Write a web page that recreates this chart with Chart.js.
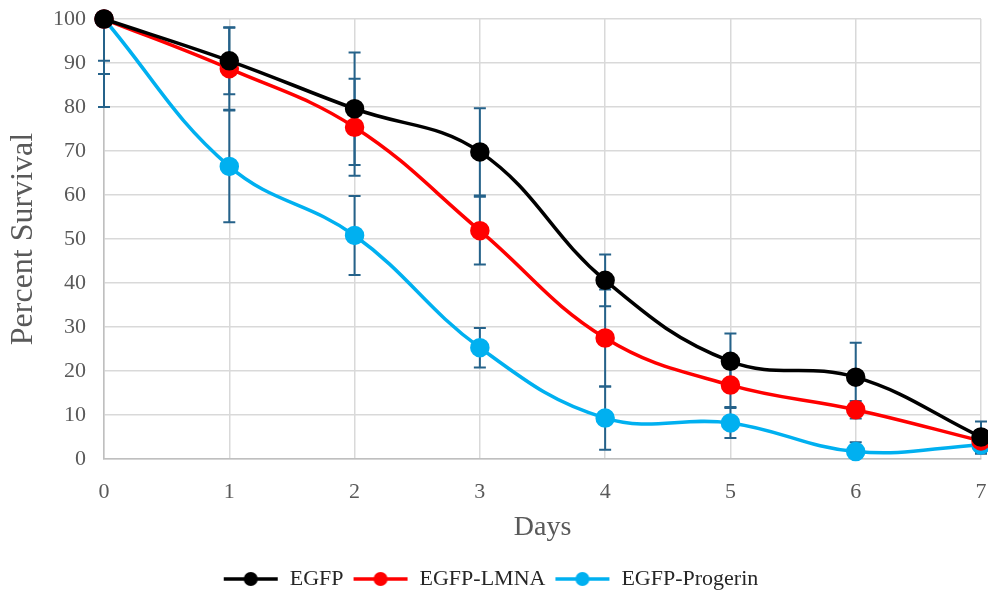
<!DOCTYPE html>
<html>
<head>
<meta charset="utf-8">
<script src="https://cdn.jsdelivr.net/npm/chart.js@4"></script>
<style>
  html, body { margin: 0; padding: 0; background: #fff; }
  #wrap { width: 988px; height: 600px; }
</style>
</head>
<body>
<div id="wrap"><canvas id="chart"></canvas></div>
<script>
// values
const days = ["0", "1", "2", "3", "4", "5", "6", "7"];
const egfp = [100, 90.5, 79.6, 69.8, 40.6, 22.2, 18.6, 5];
const lmna = [100, 88.7, 75.4, 51.9, 27.5, 16.8, 11.2, 4.1];
const progerin = [100, 66.5, 50.8, 25.3, 9.3, 8.2, 1.7, 3.2];
const egfpErr = [9.5, 7.6, 12.8, 9.9, 5.9, 6.3, 7.8, 3.5];
const lmnaErr = [12.5, 9.3, 11, 7.7, 11, 5, 2, 2.5];
const progerinErr = [20, 12.7, 9, 4.5, 7.2, 3.4, 2.1, 2];
const yTicks = [0, 10, 20, 30, 40, 50, 60, 70, 80, 90, 100];

const serif = "'Liberation Serif', 'Times New Roman', serif";

// legend swatch: line with a dot in the middle
function swatch(color) {
  const c = document.createElement("canvas");
  c.width = 56; c.height = 18;
  const g = c.getContext("2d");
  g.strokeStyle = color; g.lineWidth = 3.5;
  g.beginPath(); g.moveTo(1, 9); g.lineTo(55, 9); g.stroke();
  g.fillStyle = color;
  g.beginPath(); g.arc(28, 9, 7, 0, Math.PI * 2); g.fill();
  return c;
}

const errorBars = {
  id: "errorBars",
  beforeDatasetsDraw(chart) {
    const { ctx, chartArea, scales } = chart;
    ctx.save();
    ctx.beginPath();
    ctx.rect(chartArea.left - 10, chartArea.top, chartArea.right - chartArea.left + 20, chartArea.bottom - chartArea.top);
    ctx.clip();
    ctx.strokeStyle = "#25628a";
    ctx.lineWidth = 2;
    chart.data.datasets.forEach((ds) => {
      ds.data.forEach((v, i) => {
        const e = ds.errors[i];
        const x = scales.x.getPixelForValue(i);
        const yTop = scales.y.getPixelForValue(v + e);
        const yBot = scales.y.getPixelForValue(v - e);
        ctx.beginPath();
        ctx.moveTo(x, yTop); ctx.lineTo(x, yBot);
        ctx.moveTo(x - 6, yTop); ctx.lineTo(x + 6, yTop);
        ctx.moveTo(x - 6, yBot); ctx.lineTo(x + 6, yBot);
        ctx.stroke();
      });
    });
    ctx.restore();
  },
};

function series(label, data, errors, color) {
  return {
    label, data, errors,
    borderColor: color,
    backgroundColor: color,
    pointBackgroundColor: color,
    pointBorderColor: color,
    pointRadius: 8,
    pointStyle: "circle",
    borderWidth: 3.5,
    tension: 0.4,
    clip: 10,
    legendSwatch: swatch(color),
  };
}

new Chart(document.getElementById("chart"), {
  type: "line",
  data: {
    labels: days,
    datasets: [
      series("EGFP", egfp, egfpErr, "#000000"),
      series("EGFP-LMNA", lmna, lmnaErr, "#ff0000"),
      series("EGFP-Progerin", progerin, progerinErr, "#00b0f0"),
    ],
  },
  options: {
    responsive: true,
    maintainAspectRatio: false,
    animation: false,
    layout: { autoPadding: false, padding: { top: 19, right: 7, left: 0, bottom: 0 } },
    plugins: {
      tooltip: { enabled: false },
      legend: {
        position: "bottom",
        labels: {
          usePointStyle: true,
          pointStyleWidth: 56,
          color: "#262626",
          font: { family: serif, size: 22 },
          padding: 9,
          generateLabels(chart) {
            return chart.data.datasets.map((ds, i) => ({
              text: ds.label,
              pointStyle: ds.legendSwatch,
              fillStyle: ds.borderColor,
              strokeStyle: ds.borderColor,
              lineWidth: 0,
              datasetIndex: i,
              fontColor: "#262626",
            }));
          },
        },
      },
    },
    scales: {
      x: {
        offset: false,
        grid: { color: "#d9d9d9", lineWidth: 1.5, drawTicks: false },
        border: { color: "#bfbfbf", width: 1.5 },
        ticks: { color: "#595959", font: { family: serif, size: 22 }, padding: 20, maxRotation: 0 },
        title: { display: true, text: "Days", color: "#595959", font: { family: serif, size: 28 }, padding: { top: 6, bottom: 15 } },
        afterFit(s) { s.height = 100; s.paddingLeft = 0; s.paddingRight = 0; },
      },
      y: {
        min: 0, max: 100,
        afterBuildTicks(s) { s.ticks = yTicks.map((v) => ({ value: v })); },
        grid: { color: "#d9d9d9", lineWidth: 1.5, drawTicks: false },
        border: { color: "#bfbfbf", width: 1.5 },
        ticks: { color: "#595959", font: { family: serif, size: 22 }, padding: 18 },
        title: { display: true, text: "Percent Survival", color: "#595959", font: { family: serif, size: 32 }, padding: { top: 4, bottom: 4 } },
        afterFit(s) { s.width = 104; s.paddingTop = 0; s.paddingBottom = 0; },
      },
    },
  },
  plugins: [errorBars],
});
</script>
</body>
</html>
